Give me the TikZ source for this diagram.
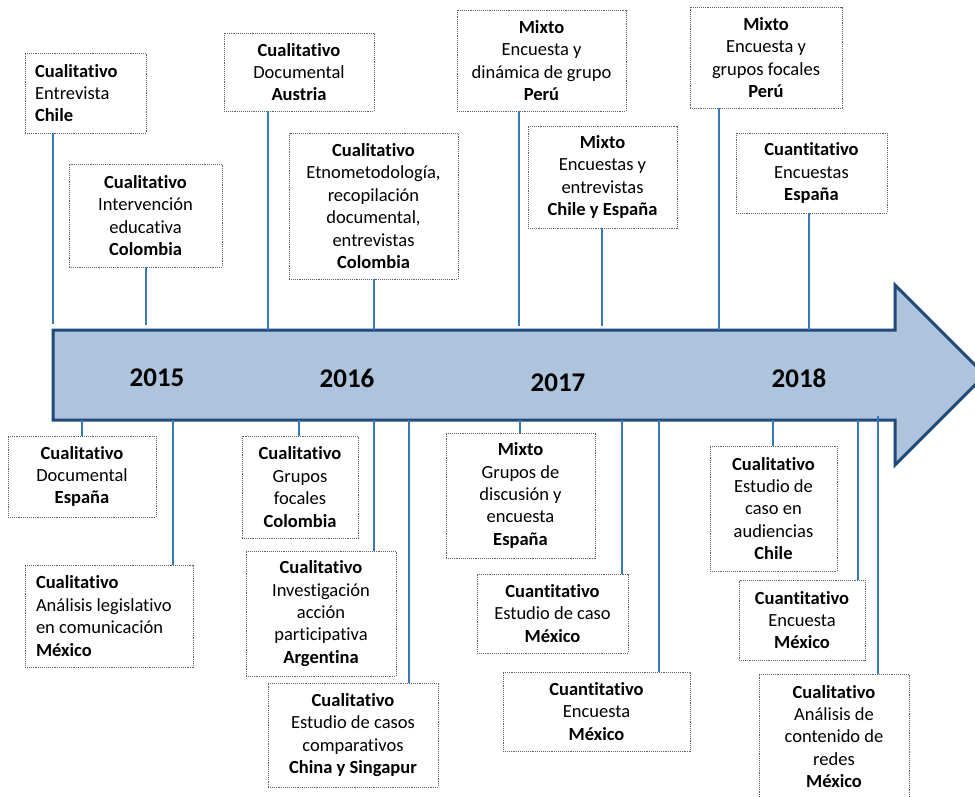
\documentclass[tikz,border=0pt]{standalone}
\usepackage{fontspec}
\setmainfont{Carlito}[Ligatures=NoCommon]
\definecolor{flecha}{RGB}{173,196,220}
\definecolor{borde}{RGB}{31,74,122}
\definecolor{linea}{RGB}{55,120,185}
\definecolor{gris}{RGB}{95,95,95}
\begin{document}
\begin{tikzpicture}[x=1pt, y=-1pt,
        caja/.style={draw=gris, densely dotted, line width=0.9pt, fill=white, align=center, inner sep=0pt, font=\fontsize{18.5}{22.4}\selectfont},
        conector/.style={draw=linea, line width=1.2pt},
        anio/.style={font=\fontsize{27}{30}\selectfont\bfseries}]
    \useasboundingbox (0,0) rectangle (975,797);
    \clip (0,0) rectangle (975,797);
    \draw[borde, line width=3pt, fill=flecha, line join=miter] (53,330) -- (895,330) -- (895,285) -- (985,375) -- (895,465) -- (895,420) -- (53,420) -- cycle;
    \node[anio] (y15) at (157,378) {2015};
    \node[anio] (y16) at (347,378) {2016};
    \node[anio] (y17) at (558,383) {2017};
    \node[anio] (y18) at (799,378) {2018};

    \node[caja, align=flush left, text width=101pt, inner xsep=10pt, minimum width=121pt, minimum height=80pt] (A) at (85.5,93) {\textbf{Cualitativo}\\ Entrevista\\ \textbf{Chile}};
    \node[caja, minimum width=153pt, minimum height=103pt] (B) at (145.5,215.5) {\textbf{Cualitativo}\\ Intervención\\ educativa\\ \textbf{Colombia}};
    \node[caja, minimum width=150pt, minimum height=78pt] (C) at (299,72) {\textbf{Cualitativo}\\ Documental\\ \textbf{Austria}};
    \node[caja, minimum width=169pt, minimum height=146pt] (D) at (373.5,206) {\textbf{Cualitativo}\\ Etnometodología,\\ recopilación\\ documental,\\ entrevistas\\ \textbf{Colombia}};
    \node[caja, minimum width=169pt, minimum height=101pt] (E) at (541.5,60.5) {\textbf{Mixto}\\ Encuesta y\\ dinámica de grupo\\ \textbf{Perú}};
    \node[caja, minimum width=149pt, minimum height=102pt] (F) at (602.5,177) {\textbf{Mixto}\\ Encuestas y\\ entrevistas\\ \textbf{Chile y España}};
    \node[caja, minimum width=152pt, minimum height=101pt] (G) at (766,57.5) {\textbf{Mixto}\\ Encuesta y\\ grupos focales\\ \textbf{Perú}};
    \node[caja, minimum width=151pt, minimum height=80pt] (H) at (811.5,173) {\textbf{Cuantitativo}\\ Encuestas\\ \textbf{España}};

    \node[caja, minimum width=148pt, minimum height=81pt] (I) at (82,476.5) {\textbf{Cualitativo}\\ Documental\\ \textbf{España}};
    \node[caja, align=flush left, text width=146pt, inner xsep=11pt, minimum width=168pt, minimum height=102pt] (J) at (109,616) {\textbf{Cualitativo}\\ Análisis legislativo\\ en comunicación\\ \textbf{México}};
    \node[caja, minimum width=116pt, minimum height=102pt] (K) at (300,487) {\textbf{Cualitativo}\\ Grupos\\ focales\\ \textbf{Colombia}};
    \node[caja, minimum width=150pt, minimum height=125pt] (L) at (321,613.5) {\textbf{Cualitativo}\\ Investigación\\ acción\\ participativa\\ \textbf{Argentina}};
    \node[caja, minimum width=170pt, minimum height=104pt] (M) at (353,735) {\textbf{Cualitativo}\\ Estudio de casos\\ comparativos\\ \textbf{China y Singapur}};
    \node[caja, minimum width=149pt, minimum height=125pt] (N) at (520.5,495.5) {\textbf{Mixto}\\ Grupos de\\ discusión y\\ encuesta\\ \textbf{España}};
    \node[caja, minimum width=151pt, minimum height=79pt] (O) at (552.5,613.5) {\textbf{Cuantitativo}\\ Estudio de caso\\ \textbf{México}};
    \node[caja, minimum width=187pt, minimum height=79pt] (P) at (596.5,711.5) {\textbf{Cuantitativo}\\ Encuesta\\ \textbf{México}};
    \node[caja, minimum width=127pt, minimum height=125pt] (Q) at (773.5,508.5) {\textbf{Cualitativo}\\ Estudio de\\ caso en\\ audiencias\\ \textbf{Chile}};
    \node[caja, minimum width=126pt, minimum height=80pt] (R) at (802,620) {\textbf{Cuantitativo}\\ Encuesta\\ \textbf{México}};
    \node[caja, minimum width=150pt, minimum height=125pt] (S) at (834,736.5) {\textbf{Cualitativo}\\ Análisis de\\ contenido de\\ redes\\ \textbf{México}};

    \coordinate (pA) at (53,324);
    \coordinate (pB) at (146,325);
    \coordinate (pC) at (268,330);
    \coordinate (pD) at (374,330);
    \coordinate (pE) at (519,326);
    \coordinate (pF) at (602,326);
    \coordinate (pG) at (719,330);
    \coordinate (pH) at (809,330);
    \foreach \n in {A,B,C,D,E,F,G,H}
        \draw[conector] (\n.south -| p\n) -- (p\n);

    \coordinate (pI) at (82,420);
    \coordinate (pJ) at (173,420);
    \coordinate (pK) at (299,420);
    \coordinate (pL) at (374,420);
    \coordinate (pM) at (409,420);
    \coordinate (pN) at (520,420);
    \coordinate (pO) at (622,420);
    \coordinate (pP) at (659,420);
    \coordinate (pQ) at (773,420);
    \coordinate (pR) at (858,420);
    \coordinate (pS) at (878,416);
    \foreach \n in {I,J,K,L,M,N,O,P,Q,R,S}
        \draw[conector] (p\n) -- (p\n |- \n.north);
\end{tikzpicture}
\end{document}
